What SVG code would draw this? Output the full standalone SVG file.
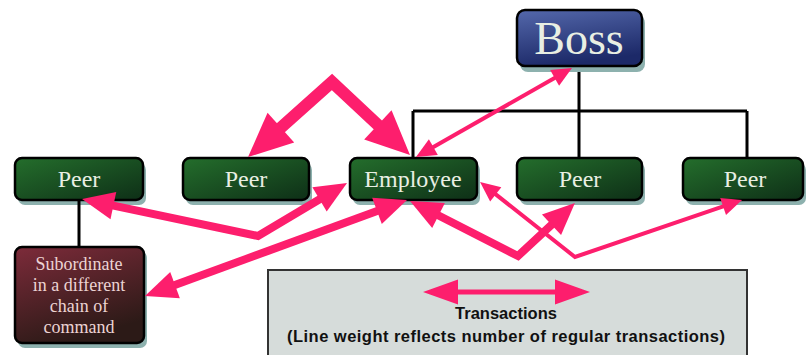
<svg xmlns="http://www.w3.org/2000/svg" width="806" height="355" viewBox="0 0 806 355">
<defs>
<linearGradient id="gGreen" x1="0" y1="0" x2="1" y2="1"><stop offset="0" stop-color="#246e2c"/><stop offset="1" stop-color="#0e2f17"/></linearGradient>
<linearGradient id="gBlue" x1="0" y1="0" x2="0.3" y2="1"><stop offset="0" stop-color="#5468ab"/><stop offset="1" stop-color="#1c2968"/></linearGradient>
<linearGradient id="gRed" x1="0" y1="0" x2="0.4" y2="1"><stop offset="0" stop-color="#7d2b3a"/><stop offset="1" stop-color="#2c1a17"/></linearGradient>
<marker id="hXL" markerUnits="userSpaceOnUse" markerWidth="46" markerHeight="40" refX="8" refY="20" orient="auto-start-reverse" overflow="visible"><path d="M0,0 L44,20 L0,40 Z" fill="#fd1e6d"/></marker>
<marker id="hBig" markerUnits="userSpaceOnUse" markerWidth="34" markerHeight="28" refX="6" refY="14" orient="auto-start-reverse" overflow="visible"><path d="M0,0 L32,14 L0,28 Z" fill="#fd1e6d"/></marker>
<marker id="hSmall" markerUnits="userSpaceOnUse" markerWidth="22" markerHeight="18" refX="4" refY="9" orient="auto-start-reverse" overflow="visible"><path d="M0,0 L20,9 L0,18 Z" fill="#fd1e6d"/></marker>
</defs>
<style>
.shadow{fill:#8db1ae}
.box{stroke:#000;stroke-width:2.5}
.green{fill:url(#gGreen)}
.lbl{font-family:"Liberation Serif","DejaVu Serif",serif;fill:#e9efe3;text-anchor:middle}
.org{fill:none;stroke:#000;stroke-width:3}
.tx{fill:none;stroke:#fd1e6d;stroke-linejoin:miter}
.xl{marker-start:url(#hXL);marker-end:url(#hXL)}
.big{marker-start:url(#hBig);marker-end:url(#hBig)}
.small{marker-start:url(#hSmall);marker-end:url(#hSmall)}
.leg{font-family:"Liberation Sans",Arial,sans-serif;font-weight:bold;fill:#111;text-anchor:middle}
</style>
<rect width="806" height="355" fill="#fff"/>
<g id="orgchart">
<path class="org" d="M579,66 V111 M413,111 H747 M413,111 V158 M579,111 V158 M747,111 V158"/>
</g>
<g id="legend">
<rect x="268" y="270" width="479" height="95" fill="#d6dcda" stroke="#333" stroke-width="2"/>
<path d="M423,292 L458,279.5 L458,289.5 L555,289.5 L555,279.5 L590,292 L555,304.5 L555,294.5 L458,294.5 L458,304.5 Z" fill="#fd1e6d"/>
<text class="leg" x="506" y="319" font-size="16.5">Transactions</text>
<text class="leg" x="506" y="342" font-size="16.5" textLength="438">(Line weight reflects number of regular transactions)</text>
</g>
<g id="boss">
<rect class="shadow" x="520" y="15" width="125" height="57" rx="8"/>
<rect class="box" x="517" y="10" width="125" height="56" rx="8" fill="url(#gBlue)"/>
<text class="lbl" x="579" y="54" font-size="46">Boss</text>
</g>
<g id="peer1">
<rect class="shadow" x="18" y="163" width="128" height="42" rx="7"/>
<rect class="box green" x="15" y="158" width="128" height="42" rx="7"/>
<text class="lbl" x="79" y="187" font-size="24">Peer</text>
</g>
<g id="peer2">
<rect class="shadow" x="186" y="163" width="126" height="42" rx="7"/>
<rect class="box green" x="183" y="158" width="126" height="42" rx="7"/>
<text class="lbl" x="246" y="187" font-size="24">Peer</text>
</g>
<g id="employee">
<rect class="shadow" x="353" y="163" width="127" height="42" rx="7"/>
<rect class="box green" x="350" y="158" width="127" height="42" rx="7"/>
<text class="lbl" x="413" y="187" font-size="24">Employee</text>
</g>
<g id="peer3">
<rect class="shadow" x="520" y="163" width="125" height="42" rx="7"/>
<rect class="box green" x="517" y="158" width="125" height="42" rx="7"/>
<text class="lbl" x="580" y="187" font-size="24">Peer</text>
</g>
<g id="peer4">
<rect class="shadow" x="686" y="163" width="120" height="42" rx="7"/>
<rect class="box green" x="683" y="158" width="120" height="42" rx="7"/>
<text class="lbl" x="745" y="187" font-size="24">Peer</text>
</g>
<g id="subordinate">
<path class="org" d="M79,200 V247"/>
<rect class="shadow" x="18" y="251" width="129" height="97" rx="7"/>
<rect class="box" x="15" y="247" width="129" height="96" rx="7" fill="url(#gRed)"/>
<text class="lbl" font-size="18" style="fill:#ecd3d3"><tspan x="79" y="270">Subordinate</tspan><tspan x="79" y="291">in a different</tspan><tspan x="79" y="312">chain of</tspan><tspan x="79" y="333">command</tspan></text>
</g>
<g id="connectors">
<path class="tx xl" stroke-width="12" d="M274.9,133 L332,82 L383.7,130.4"/>
<path class="tx small" stroke-width="4" d="M429.9,149.1 L558.1,75.9"/>
<path class="tx big" stroke-width="8" d="M107.5,204.4 L258,236 L324.7,196.3"/>
<path class="tx big" stroke-width="8" d="M169.4,287.1 L382.6,208.9"/>
<path class="tx big" stroke-width="8" d="M433.2,212.8 L518,256 L555.9,220.7"/>
<path class="tx small" stroke-width="4" d="M492.6,191.9 L575,257 L726.9,205.2"/>
</g>
</svg>
